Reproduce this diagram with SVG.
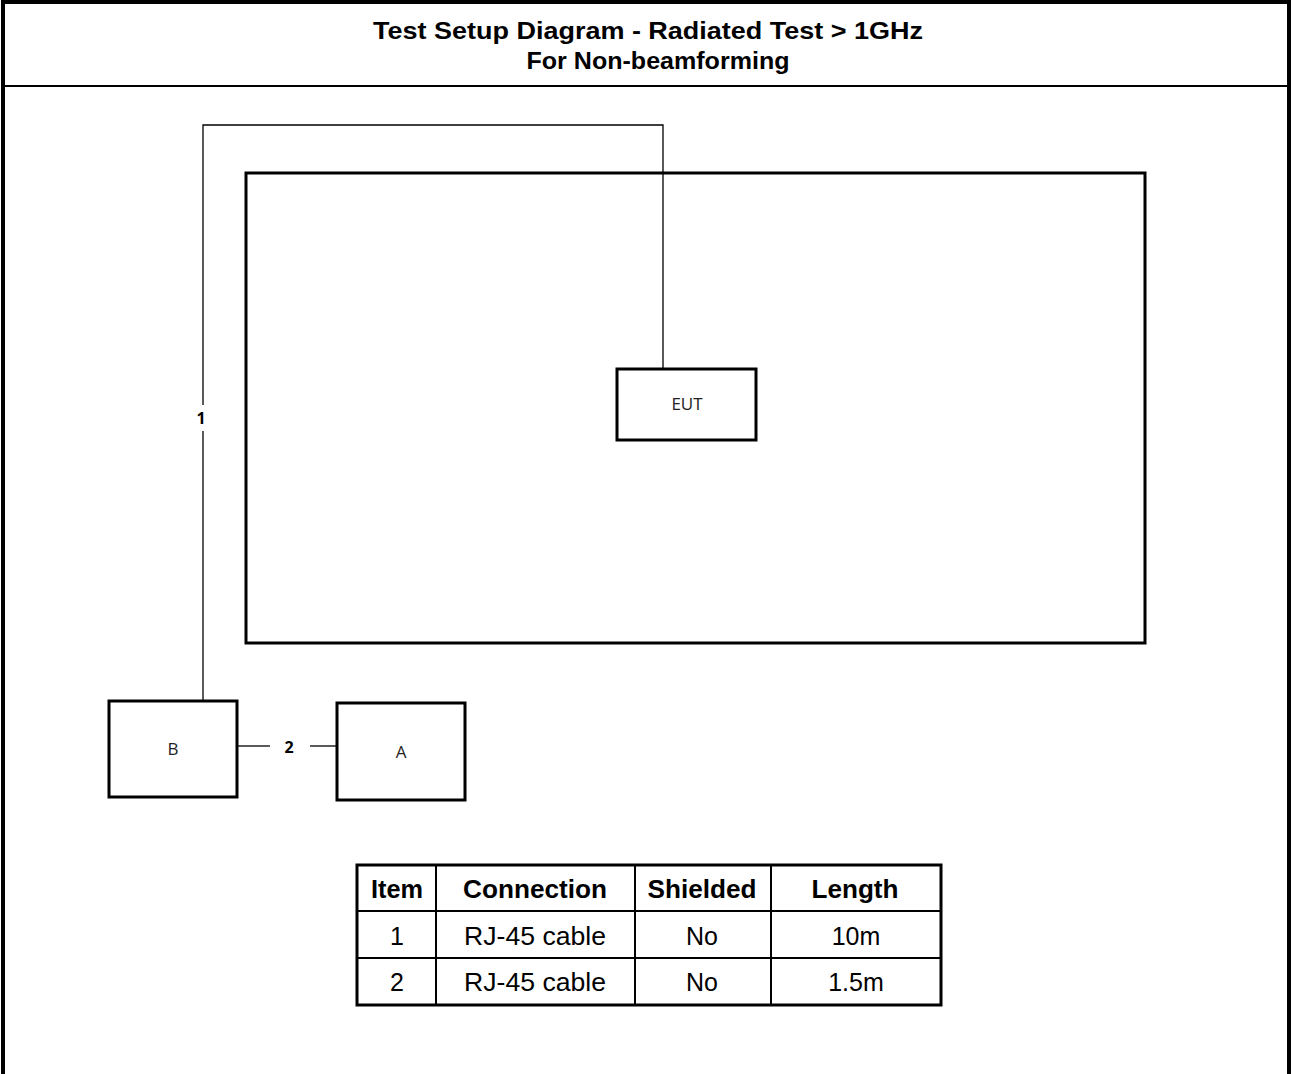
<svg xmlns="http://www.w3.org/2000/svg" width="1292" height="1074" viewBox="0 0 1292 1074">
<style>
.frame{fill:none;stroke:#000;stroke-width:4}
.box{fill:#fff;stroke:#000;stroke-width:3}
.wire{fill:none;stroke:#000;stroke-width:1.3}
.title{font-family:"Liberation Sans",Arial,sans-serif;font-weight:bold;font-size:23px;text-anchor:middle}
.lbl{font-family:"Open Sans","Noto Sans",sans-serif;font-size:17px;text-anchor:middle;fill:#222}
.clbl{font-family:"Open Sans","Noto Sans",sans-serif;font-size:16px;font-weight:bold;text-anchor:middle}
.th{font-family:"Liberation Sans",Arial,sans-serif;font-weight:bold;font-size:25px;text-anchor:middle}
.td{font-family:"Liberation Sans",Arial,sans-serif;font-size:25px;text-anchor:middle}
.tl{stroke:#000;stroke-width:2}
</style>
<rect width="1292" height="1074" fill="#fff"/>
<g id="frame">
<path class="frame" d="M3 1074 V2 H1289 V1074"/>
<line x1="3" y1="86" x2="1289" y2="86" stroke="#000" stroke-width="2"/>
<text class="title" x="648" y="39" textLength="550" lengthAdjust="spacingAndGlyphs">Test Setup Diagram - Radiated Test &gt; 1GHz</text>
<text class="title" x="658" y="69" textLength="263" lengthAdjust="spacingAndGlyphs">For Non-beamforming</text>
</g>
<g id="chamber"><rect class="box" x="246" y="173" width="899" height="470" fill="none"/></g>
<g id="connectors">
<path class="wire" d="M203 405 V125 H663 V369"/>
<path class="wire" d="M203 431 V701"/>
<text class="clbl" x="201" y="424">1</text>
<line class="wire" x1="238" y1="746" x2="270" y2="746"/>
<line class="wire" x1="310" y1="746" x2="337" y2="746"/>
<text class="clbl" x="289" y="753">2</text>
</g>
<g id="EUT"><rect class="box" x="617" y="369" width="139" height="71"/><text class="lbl" x="687" y="410">EUT</text></g>
<g id="B"><rect class="box" x="109" y="701" width="128" height="96"/><text class="lbl" x="173" y="755">B</text></g>
<g id="A"><rect class="box" x="337" y="703" width="128" height="97"/><text class="lbl" x="401" y="758">A</text></g>
<g id="table">
<rect x="357" y="865" width="584" height="140" fill="none" stroke="#000" stroke-width="3"/>
<line class="tl" x1="357" y1="911" x2="941" y2="911"/>
<line class="tl" x1="357" y1="958" x2="941" y2="958"/>
<line class="tl" x1="436" y1="865" x2="436" y2="1005"/>
<line class="tl" x1="635" y1="865" x2="635" y2="1005"/>
<line class="tl" x1="771" y1="865" x2="771" y2="1005"/>
<text class="th" x="397" y="898" textLength="52" lengthAdjust="spacingAndGlyphs">Item</text>
<text class="th" x="535" y="898" textLength="144" lengthAdjust="spacingAndGlyphs">Connection</text>
<text class="th" x="702" y="898" textLength="109" lengthAdjust="spacingAndGlyphs">Shielded</text>
<text class="th" x="855" y="898" textLength="87" lengthAdjust="spacingAndGlyphs">Length</text>
<text class="td" x="397" y="945">1</text>
<text class="td" x="535" y="945" textLength="142" lengthAdjust="spacingAndGlyphs">RJ-45 cable</text>
<text class="td" x="702" y="945">No</text>
<text class="td" x="856" y="945">10m</text>
<text class="td" x="397" y="991">2</text>
<text class="td" x="535" y="991" textLength="142" lengthAdjust="spacingAndGlyphs">RJ-45 cable</text>
<text class="td" x="702" y="991">No</text>
<text class="td" x="856" y="991">1.5m</text>
</g>
</svg>
